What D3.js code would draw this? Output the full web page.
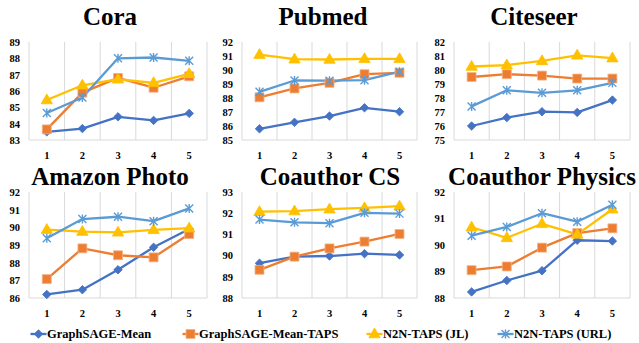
<!DOCTYPE html>
<html>
<head>
<meta charset="utf-8">
<script src="https://cdn.jsdelivr.net/npm/d3@7"></script>
</head>
<body style="margin:0; background:#fff">
<script>
var steps = ['1', '2', '3', '4', '5'];
var seriesNames = ['GraphSAGE-Mean', 'GraphSAGE-Mean-TAPS', 'N2N-TAPS (JL)', 'N2N-TAPS (URL)'];
var colors = ['#4472C4', '#ED7D31', '#FFC000', '#5B9BD5'];
var titles = ['Cora', 'Pubmed', 'Citeseer', 'Amazon Photo', 'Coauthor CS', 'Coauthor Physics'];
var yDomains = [[83, 89], [85, 92], [75, 82], [86, 92], [88, 93], [88, 92]];

// values per dataset, one array per series
var cora = [
  [83.5, 83.7, 84.42, 84.2, 84.63],
  [83.65, 85.9, 86.8, 86.2, 86.9],
  [85.45, 86.35, 86.72, 86.5, 87.05],
  [84.65, 85.6, 88.0, 88.05, 87.85]
];
var pubmed = [
  [85.8, 86.26, 86.71, 87.3, 87.02],
  [88.05, 88.68, 89.08, 89.7, 89.8],
  [91.1, 90.77, 90.75, 90.8, 90.8],
  [88.44, 89.25, 89.24, 89.27, 89.88]
];
var citeseer = [
  [76.0, 76.6, 77.02, 76.97, 77.85],
  [79.5, 79.7, 79.6, 79.39, 79.39],
  [80.25, 80.35, 80.65, 81.05, 80.85],
  [77.4, 78.55, 78.37, 78.55, 79.08]
];
var amazonPhoto = [
  [86.2, 86.47, 87.6, 88.87, 89.9],
  [87.07, 88.81, 88.42, 88.3, 89.62],
  [89.87, 89.76, 89.72, 89.86, 89.95],
  [89.38, 90.47, 90.6, 90.35, 91.07]
];
var coauthorCS = [
  [89.64, 89.95, 89.98, 90.09, 90.03],
  [89.33, 89.95, 90.34, 90.66, 91.02],
  [92.07, 92.1, 92.19, 92.25, 92.33],
  [91.7, 91.57, 91.53, 92.02, 91.98]
];
var coauthorPhysics = [
  [88.23, 88.66, 89.03, 90.18, 90.15],
  [89.05, 89.19, 89.9, 90.45, 90.63],
  [90.67, 90.27, 90.8, 90.4, 91.35],
  [90.35, 90.68, 91.2, 90.88, 91.52]
];
var datasets = [cora, pubmed, citeseer, amazonPhoto, coauthorCS, coauthorPhysics];

// layout of each panel: plot box and title position
var panels = [
  {x0: 29, x1: 207, y0: 42, y1: 140, tx: 110, ty: 25},
  {x0: 242, x1: 417, y0: 42, y1: 140, tx: 323, ty: 25},
  {x0: 454, x1: 630, y0: 42, y1: 140, tx: 534, ty: 25},
  {x0: 29, x1: 207, y0: 192, y1: 298, tx: 110, ty: 185},
  {x0: 242, x1: 417, y0: 192, y1: 298, tx: 330, ty: 185},
  {x0: 454, x1: 630, y0: 192, y1: 298, tx: 542, ty: 185}
];
var FONT = '"Liberation Serif"';

var svg = d3.select('body').append('svg').attr('width', 639).attr('height', 343);

function serif(sel, size) {
  sel.style('font-family', FONT).style('font-weight', 'bold').style('font-size', size + 'px').attr('fill', '#000');
}

function drawMarker(g, s, color, cx, cy) {
  if (s === 0) {
    g.append('path').attr('d', d3.symbol().type(d3.symbolSquare).size(36)())
      .attr('transform', 'translate(' + cx + ',' + cy + ') rotate(45)')
      .attr('fill', color).attr('stroke', color).attr('stroke-width', 0.8);
  } else if (s === 1) {
    g.append('path').attr('d', d3.symbol().type(d3.symbolSquare).size(80)())
      .attr('transform', 'translate(' + cx + ',' + cy + ')')
      .attr('fill', color).attr('stroke', '#F4B183').attr('stroke-width', 0.8);
  } else if (s === 2) {
    g.append('path').attr('d', d3.symbol().type(d3.symbolTriangle).size(56)())
      .attr('transform', 'translate(' + cx + ',' + (cy + 0.5) + ')')
      .attr('fill', color).attr('stroke', color).attr('stroke-width', 0.8);
  } else {
    var r = 4;
    g.append('path')
      .attr('d', 'M' + (-r) + ',' + (-r) + 'L' + r + ',' + r + 'M' + (-r) + ',' + r + 'L' + r + ',' + (-r) +
        'M0,' + (-r - 0.5) + 'L0,' + (r + 0.5))
      .attr('transform', 'translate(' + cx + ',' + cy + ')')
      .attr('fill', 'none').attr('stroke', color).attr('stroke-width', 1.4);
  }
}

datasets.forEach(function (data, p) {
  var box = panels[p];
  var x = d3.scaleBand().domain(steps).range([box.x0, box.x1]).padding(0);
  var y = d3.scaleLinear().domain(yDomains[p]).range([box.y1, box.y0]);
  var g = svg.append('g');

  // vertical gridlines at band edges
  var edges = steps.map(function (s) { return x(s); }).concat([box.x1]);
  g.selectAll('line.grid').data(edges).enter().append('line')
    .attr('x1', function (d) { return d; }).attr('x2', function (d) { return d; })
    .attr('y1', box.y0).attr('y2', box.y1)
    .attr('stroke', '#D9D9D9').attr('stroke-width', 1);
  g.append('line').attr('x1', box.x0).attr('x2', box.x1).attr('y1', box.y1).attr('y2', box.y1)
    .attr('stroke', '#D9D9D9').attr('stroke-width', 1);

  var ticks = d3.range(yDomains[p][0], yDomains[p][1] + 1);
  var yAxis = d3.axisLeft(y).tickValues(ticks).tickSize(0).tickPadding(9).tickFormat(d3.format('d'));
  var ya = g.append('g').attr('transform', 'translate(' + box.x0 + ',0)').call(yAxis);
  ya.attr('font-family', null).attr('font-size', null);
  ya.select('.domain').remove();
  serif(ya.selectAll('text'), 10.5);

  var xAxis = d3.axisBottom(x).tickSize(0).tickPadding(12);
  var xa = g.append('g').attr('transform', 'translate(0,' + box.y1 + ')').call(xAxis);
  xa.attr('font-family', null).attr('font-size', null);
  xa.select('.domain').remove();
  serif(xa.selectAll('text'), 10.5);

  var line = d3.line()
    .x(function (d, i) { return x(steps[i]) + x.bandwidth() / 2; })
    .y(function (d) { return y(d); });

  data.forEach(function (vals, s) {
    g.append('path').attr('d', line(vals)).attr('fill', 'none')
      .attr('stroke', colors[s]).attr('stroke-width', 2.3).attr('stroke-linejoin', 'round');
  });
  data.forEach(function (vals, s) {
    vals.forEach(function (v, i) {
      drawMarker(g, s, colors[s], x(steps[i]) + x.bandwidth() / 2, y(v));
    });
  });

  var t = svg.append('text').attr('x', box.tx).attr('y', box.ty).attr('text-anchor', 'middle').text(titles[p]);
  serif(t, 25);
});

// legend
var legendX = [38.5, 190.5, 374.5, 505.5];
var legend = svg.append('g');
seriesNames.forEach(function (name, s) {
  var cx = legendX[s], cy = 334;
  legend.append('line').attr('x1', cx - 8).attr('x2', cx + 8).attr('y1', cy).attr('y2', cy)
    .attr('stroke', colors[s]).attr('stroke-width', 2.3);
  drawMarker(legend, s, colors[s], cx, cy);
  var t = legend.append('text').attr('x', cx + 8.5).attr('y', cy + 4.3).text(name);
  serif(t, 12.5);
});
</script>
</body>
</html>
